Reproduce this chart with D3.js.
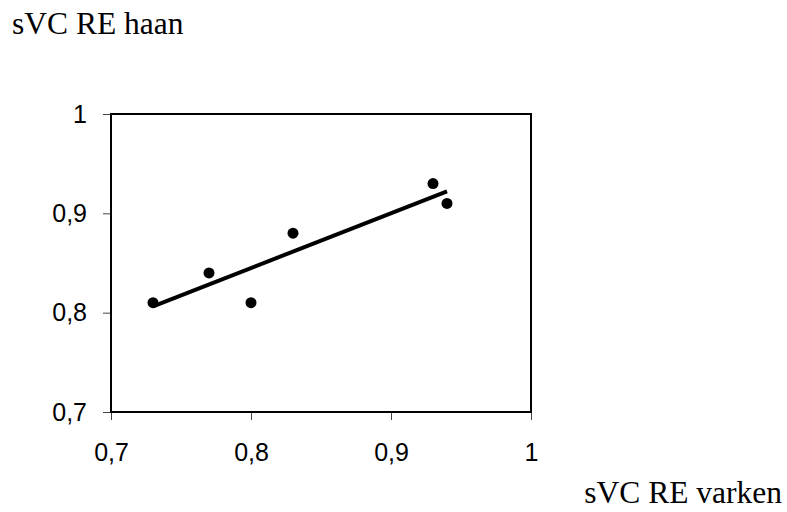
<!DOCTYPE html>
<html>
<head>
<meta charset="utf-8">
<script src="https://cdn.jsdelivr.net/npm/d3@7"></script>
<style>
body { margin: 0; background: #fff; }
.tick text { font-family: "Liberation Sans", Arial, sans-serif; font-size: 25px; fill: #000; }
.tick line { stroke: #444; stroke-width: 1; }
.domain { display: none; }
.label { font-family: "Liberation Serif", "Times New Roman", serif; font-size: 31.5px; fill: #000; }
</style>
</head>
<body>
<script>
const varken = [0.73, 0.77, 0.80, 0.83, 0.93, 0.94]
const haan = [0.81, 0.84, 0.81, 0.88, 0.93, 0.91]
const xTicks = [0.7, 0.8, 0.9, 1]
const yTicks = [0.7, 0.8, 0.9, 1]
const yTitle = "sVC RE haan"
const xTitle = "sVC RE varken"

const width = 787
const height = 512
const plotLeft = 111, plotRight = 531, plotTop = 114, plotBottom = 412

const svg = d3.select("body")
    .append("svg")
    .attr("width", width)
    .attr("height", height)

const x = d3.scaleLinear().domain([0.7, 1]).range([plotLeft, plotRight])
const y = d3.scaleLinear().domain([0.7, 1]).range([plotBottom, plotTop])
const fmt = d => d === 1 ? "1" : d3.format(".1f")(d).replace(".", ",")

svg.append("g")
    .attr("transform", "translate(0," + plotBottom + ")")
    .call(d3.axisBottom(x).tickValues(xTicks).tickFormat(fmt).tickSize(8).tickPadding(23))
svg.append("g")
    .attr("transform", "translate(" + plotLeft + ",0)")
    .call(d3.axisLeft(y).tickValues(yTicks).tickFormat(fmt).tickSize(8).tickPadding(16))

svg.append("rect")
    .attr("x", plotLeft)
    .attr("y", plotTop)
    .attr("width", plotRight - plotLeft)
    .attr("height", plotBottom - plotTop)
    .attr("fill", "none")
    .attr("stroke", "#000")
    .attr("stroke-width", 2)

// least squares trend line
const mx = d3.mean(varken), my = d3.mean(haan)
const slope = d3.sum(varken, (v, i) => (v - mx) * (haan[i] - my)) / d3.sum(varken, v => (v - mx) ** 2)
const x0 = d3.min(varken), x1 = d3.max(varken)
svg.append("line")
    .attr("x1", x(x0))
    .attr("y1", y(my + slope * (x0 - mx)))
    .attr("x2", x(x1))
    .attr("y2", y(my + slope * (x1 - mx)))
    .attr("stroke", "#000")
    .attr("stroke-width", 4)

svg.selectAll("circle")
    .data(varken)
    .enter()
    .append("circle")
    .attr("cx", d => x(d))
    .attr("cy", (d, i) => y(haan[i]))
    .attr("r", 5.5)
    .attr("fill", "#000")

svg.append("text")
    .attr("class", "label")
    .attr("x", 12)
    .attr("y", 34)
    .text(yTitle)
svg.append("text")
    .attr("class", "label")
    .attr("x", 782)
    .attr("y", 503)
    .attr("text-anchor", "end")
    .text(xTitle)
</script>
</body>
</html>
